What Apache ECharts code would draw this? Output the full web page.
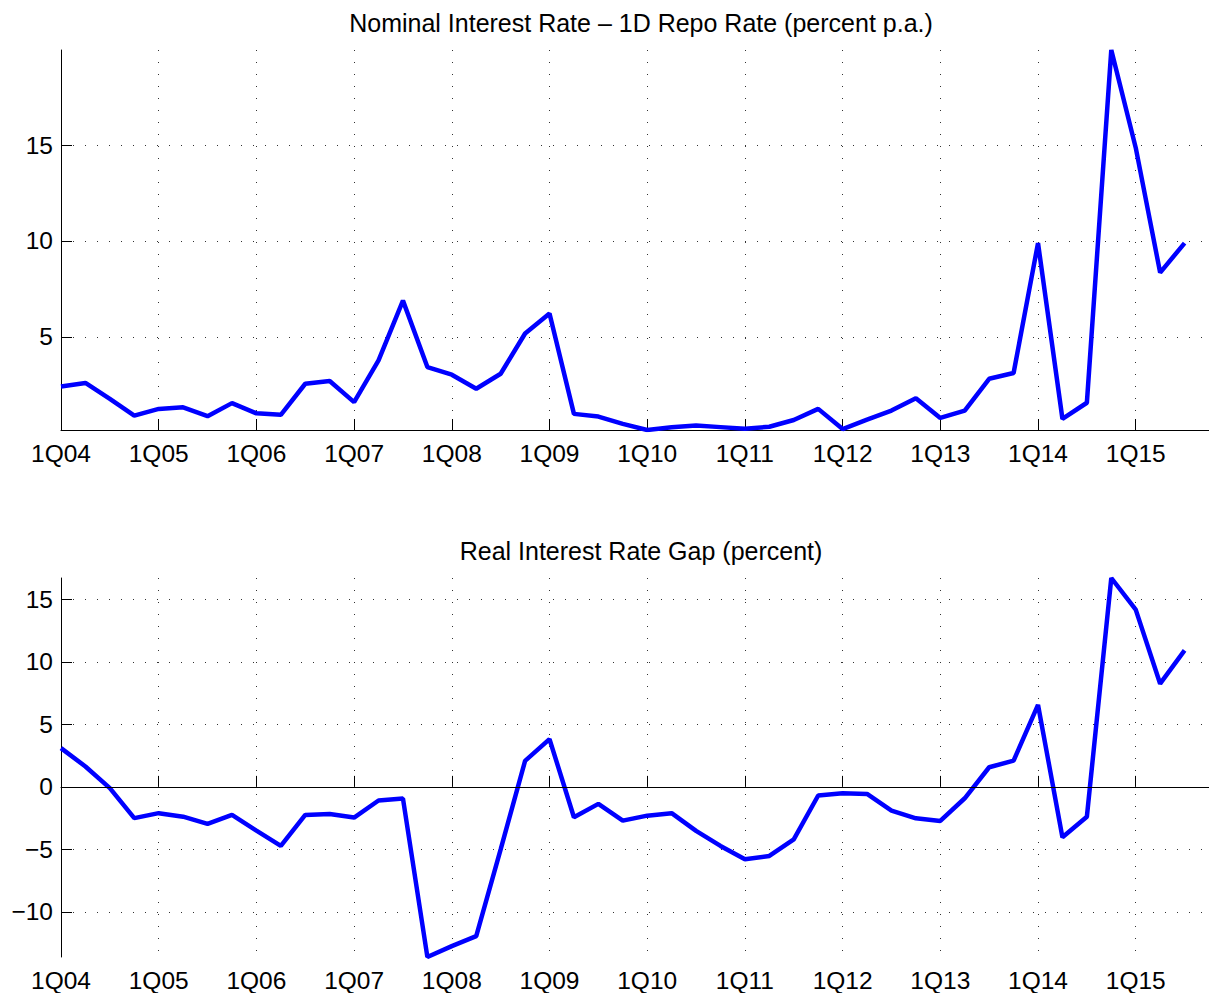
<!DOCTYPE html>
<html>
<head>
<meta charset="utf-8">
<script src="https://cdn.jsdelivr.net/npm/echarts@6/dist/echarts.min.js"></script>
<style>
  html, body { margin: 0; padding: 0; background: #fff; }
  #chart { width: 1209px; height: 993px; }
</style>
</head>
<body>
<div id="chart"></div>
<script>
// quarters 1Q04 .. 4Q15
var quarters = [];
for (var y = 4; y <= 15; y++) {
  for (var q = 1; q <= 4; q++) {
    quarters.push(q + 'Q' + (y < 10 ? '0' + y : y));
  }
}

// Nominal interest rate, 1D repo (percent p.a.), 1Q04 .. 3Q15
var nominalRate = [
  2.42, 2.6, 1.77, 0.9, 1.25, 1.33, 0.87, 1.55, 1.02, 0.94, 2.56, 2.7,
  1.6, 3.78, 6.89, 3.43, 3.03, 2.3, 3.08, 5.18, 6.22, 0.99, 0.85, 0.47,
  0.15, 0.29, 0.38, 0.3, 0.22, 0.32, 0.67, 1.25, 0.2, 0.69, 1.16, 1.81,
  0.78, 1.16, 2.82, 3.12, 9.89, 0.73, 1.57, 19.95, 14.86, 8.35, 9.89
];

// Real interest rate gap (percent), 1Q04 .. 3Q15
var realGap = [
  3.1, 1.63, -0.1, -2.5, -2.1, -2.38, -2.96, -2.24, -3.5, -4.72, -2.24, -2.16,
  -2.45, -1.09, -0.93, -13.6, -12.73, -11.93, -5.0, 2.08, 3.82, -2.43, -1.36, -2.7,
  -2.3, -2.1, -3.52, -4.72, -5.79, -5.52, -4.19, -0.69, -0.51, -0.56, -1.89, -2.51,
  -2.72, -0.91, 1.57, 2.1, 6.56, -4.03, -2.38, 16.7, 14.17, 8.25, 10.91
];

var titles = [
  'Nominal Interest Rate \u2013 1D Repo Rate (percent p.a.)',
  'Real Interest Rate Gap (percent)'
];

var font = 'Liberation Sans, Arial, sans-serif';
var yearTick = function (i) { return i % 4 === 0; };
var dotted = { color: '#333', width: 1, type: [1, 11] };

function xAxisFor(idx) {
  return {
    type: 'category', gridIndex: idx, data: quarters, boundaryGap: false,
    axisLine: { lineStyle: { color: '#000', width: 1 } },
    axisTick: { inside: true, length: 11, interval: yearTick, lineStyle: { color: '#000' } },
    axisLabel: { interval: yearTick, color: '#000', fontFamily: font, fontSize: 24.5, margin: 11 },
    splitLine: { show: true, interval: yearTick, lineStyle: dotted }
  };
}

function yAxisFor(idx, splitNumber) {
  return {
    type: 'value', gridIndex: idx, min: 'dataMin', max: 'dataMax', splitNumber: splitNumber,
    axisLine: { show: true, lineStyle: { color: '#000', width: 1 } },
    axisTick: { show: true, inside: true, length: 11, lineStyle: { color: '#000' } },
    axisLabel: {
      color: '#000', fontFamily: font, fontSize: 24.5, margin: 8,
      showMinLabel: false, showMaxLabel: false,
      formatter: function (v) { return String(v).replace('-', '\u2212'); }
    },
    splitLine: { show: true, showMinLine: false, showMaxLine: false, lineStyle: dotted }
  };
}

var chart = echarts.init(document.getElementById('chart'), null, { renderer: 'svg' });
chart.setOption({
  animation: false,
  title: [
    { text: titles[0], left: 636, top: 5, textAlign: 'center',
      textStyle: { fontFamily: font, fontSize: 25, fontWeight: 'normal', color: '#000' } },
    { text: titles[1], left: 636, top: 533, textAlign: 'center',
      textStyle: { fontFamily: font, fontSize: 25, fontWeight: 'normal', color: '#000' } }
  ],
  grid: [
    { left: 61, top: 50, width: 1150.5, height: 380 },
    { left: 61, top: 578, width: 1150.5, height: 379 }
  ],
  xAxis: [xAxisFor(0), xAxisFor(1)],
  yAxis: [yAxisFor(0, 4), yAxisFor(1, 6)],
  series: [
    {
      type: 'line', xAxisIndex: 0, yAxisIndex: 0, data: nominalRate,
      showSymbol: false, lineStyle: { color: '#0000ff', width: 4.5 }
    },
    {
      type: 'line', xAxisIndex: 1, yAxisIndex: 1, data: realGap,
      showSymbol: false, lineStyle: { color: '#0000ff', width: 4.5 },
      markLine: {
        silent: true, symbol: 'none', label: { show: false },
        lineStyle: { color: '#000', width: 1, type: 'solid' },
        data: [{ yAxis: 0 }]
      }
    }
  ]
});
window.addEventListener('resize', function () { chart.resize(); });
</script>
</body>
</html>
